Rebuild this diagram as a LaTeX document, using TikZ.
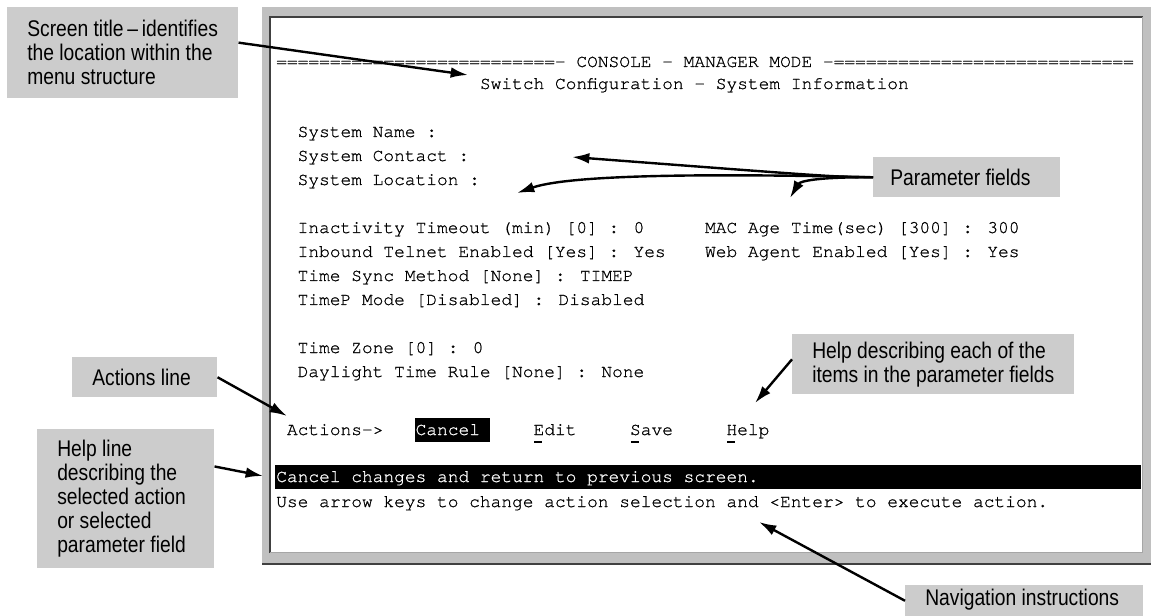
\documentclass[tikz,border=0pt]{standalone}
\usepackage{fontspec}
\usetikzlibrary{arrows.meta}
\newfontfamily\consolefont[FakeBold=0.8]{texgyrecursor-regular.otf}
\newfontfamily\calloutfont[FakeStretch=0.85]{Liberation Sans}
\definecolor{boxgray}{RGB}{204,204,204}
\definecolor{framegray}{RGB}{192,192,192}
\definecolor{edgedark}{RGB}{64,64,64}
\begin{document}
\begin{tikzpicture}[x=0.75pt,y=0.75pt,yscale=-1,xscale=1,
  calloutbox/.style={fill=boxgray, anchor=north west, inner sep=0pt},
  callouttext/.style={anchor=west, inner sep=0pt, align=left, font=\calloutfont\fontsize{17}{18}\selectfont},
  console/.style={anchor=base west, inner sep=0pt, font=\consolefont\fontsize{13.4}{16}\selectfont},
  pointer/.style={line width=1.8pt, -{Latex[length=13pt,width=8pt]}}]
\useasboundingbox (0,0) rectangle (1151,616);
%Shape: Screen frame
\fill[framegray] (262,7) rectangle (1151,564);
\fill[edgedark] (262,562.5) rectangle (1151,564.5);
\fill[white] (271,18) rectangle (1142,552);
\draw[edgedark, line width=1.5pt] (270,553) -- (270,17) -- (1143,17);
\draw[black!35, line width=1pt] (270,552.5) -- (1142.5,552.5) -- (1142.5,17);
% Text Node
\node[console] (hdr) at (276,67) {==========================- CONSOLE - MANAGER MODE -============================};
\node[console] (subtitle) at (479.7,89) {Switch Configuration - System Information};
% Text Node
\node[console] (sysname) at (297.4,137) {System Name :};
\node[console] (syscontact) at (297.4,161) {System Contact :};
\node[console] (syslocation) at (297.4,185) {System Location :};
% Text Node
\node[console] (inactivity) at (297.4,233) {Inactivity Timeout (min) [0] : 0};
\node[console] (inbound) at (297.4,257) {Inbound Telnet Enabled [Yes] : Yes};
\node[console] (timesync) at (297.4,281) {Time Sync Method [None] : TIMEP};
\node[console] (timep) at (297.4,305) {TimeP Mode [Disabled] : Disabled};
\node[console] (macage) at (704.8,233) {MAC Age Time(sec) [300] : 300};
\node[console] (webagent) at (704.8,257) {Web Agent Enabled [Yes] : Yes};
% Text Node
\node[console] (timezone) at (297.4,353) {Time Zone [0] : 0};
\node[console] (daylight) at (297.4,377) {Daylight Time Rule [None] : None};
% Actions line
\node[console] (actions) at (286.7,435) {Actions->};
\fill (415.4,418) rectangle (490.4,442);
\node[console, text=white] (cancel) at (415.4,435) {Cancel};
\node[console] (edit) at (533.3,435) {Edit};
\node[console] (save) at (629.8,435) {Save};
\node[console] (help) at (726.2,435) {Help};
\draw[line width=1.5pt] (534.3,442) -- (542.3,442);
\draw[line width=1.5pt] (630.8,442) -- (638.8,442);
\draw[line width=1.5pt] (727.2,442) -- (735.2,442);
% Help line
\fill (275,465) rectangle (1141,489);
\node[console, text=white] (helptext) at (276,482) {Cancel changes and return to previous screen.};
\node[console] (navtext) at (276,507) {Use arrow keys to change action selection and <Enter> to execute action.};
% Callouts
\node[calloutbox, minimum width=173.25pt, minimum height=68.25pt] (titlebox) at (7,7) {};
\node[callouttext] (titletext) at ([xshift=15pt]titlebox.west) {Screen title\,–\,identifies\\the location within the\\menu structure};
\node[calloutbox, minimum width=140.25pt, minimum height=30pt] (parambox) at (873,157) {};
\node[callouttext] (paramtext) at ([xshift=12.75pt]parambox.west) {Parameter fields};
\node[calloutbox, minimum width=108.75pt, minimum height=30pt] (actbox) at (72,357) {};
\node[callouttext] (acttext) at ([xshift=15pt]actbox.west) {Actions line};
\node[calloutbox, minimum width=132.75pt, minimum height=104.25pt] (helplinebox) at (37,429) {};
\node[callouttext] (helplinetext) at ([xshift=15pt]helplinebox.west) {Help line\\describing the\\selected action\\or selected\\parameter field};
\node[calloutbox, minimum width=211.5pt, minimum height=45pt] (helpbox) at (792,334) {};
\node[callouttext] (helpboxtext) at ([xshift=15pt]helpbox.west) {Help describing each of the\\items in the parameter fields};
\node[calloutbox, minimum width=178.5pt, minimum height=23.25pt] (navbox) at (905,585) {};
\node[callouttext] (navboxtext) at ([xshift=15pt,yshift=-1pt]navbox.west) {Navigation instructions};
%Straight Lines
\coordinate (titletip) at (468,75);
\draw[pointer] (titlebox.5) -- (titletip);
%Curve Lines
\coordinate (conttip) at (572,157);
\coordinate (loctip) at (517,193);
\coordinate (mactip) at (790,198);
\draw[pointer] (parambox.west) .. controls (835,177) .. (conttip);
\draw[pointer] (parambox.west) .. controls (650,172) and (560,178) .. (loctip);
\draw[pointer] (parambox.west) .. controls (818,177) and (800,181) .. (mactip);
%Straight Lines
\coordinate (acttip) at (287,416);
\draw[pointer] (actbox.east) -- (acttip);
\coordinate (bartip) at (263,476);
\draw[pointer] (helplinebox.20) -- (bartip);
\coordinate (helptip) at (755,403);
\draw[pointer] (helpbox.178) -- (helptip);
\coordinate (navtip) at (759,522);
\draw[pointer] (navbox.west) -- (navtip);
\end{tikzpicture}
\end{document}
